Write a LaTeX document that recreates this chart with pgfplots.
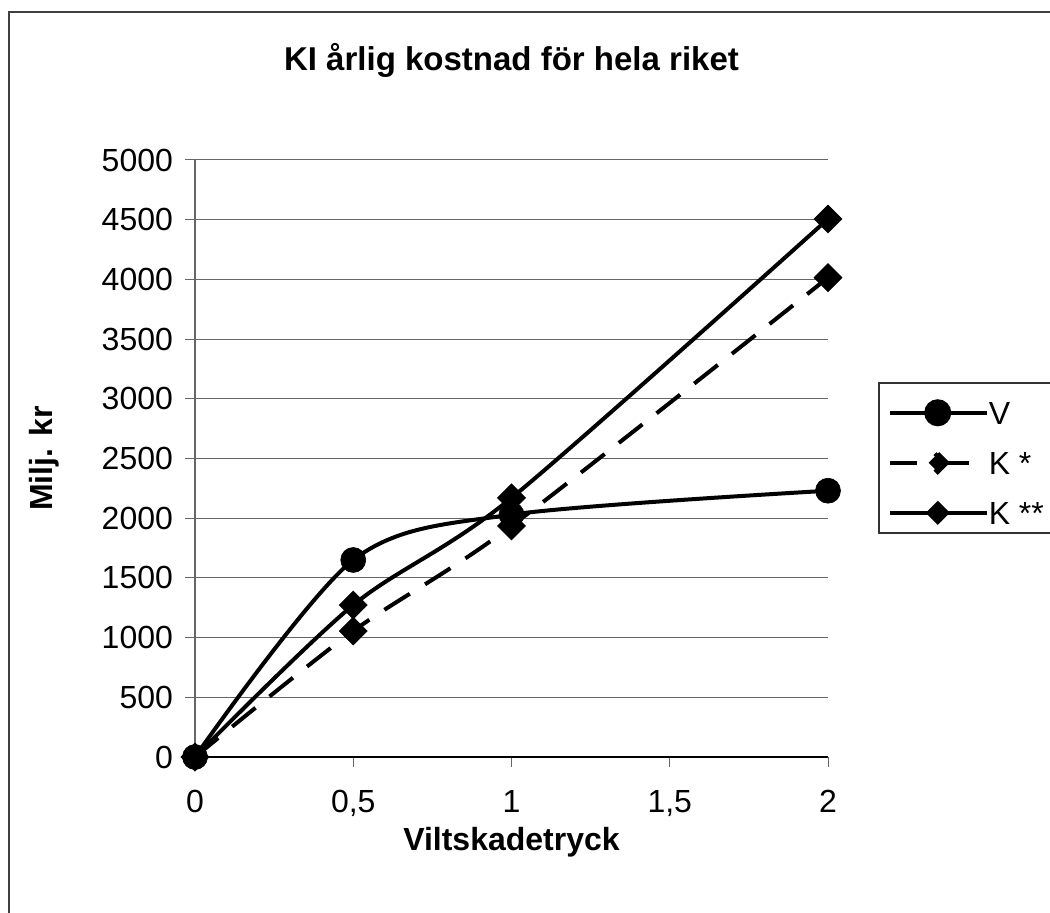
\documentclass[border=0pt]{standalone}
\usepackage{fontspec}
\setmainfont{Liberation Sans}
\usepackage{pgfplots}
\pgfplotsset{compat=1.18}

\begin{document}
\begin{tikzpicture}[x=1pt,y=1pt]
\path[use as bounding box] (0,0) rectangle (525,456);
\begin{pgfinterruptboundingbox}
\draw[line width=1pt, black!75] (4.5,-10) -- (4.5,450) -- (540,450);
\begin{axis}[
  at={(97.5pt,77.5pt)}, anchor=south west,
  scale only axis, width=316.5pt, height=298.5pt,
  xmin=0, xmax=2, ymin=0, ymax=5000,
  axis x line=bottom, axis y line=left, axis line style={-},
  x axis line style={black, line width=0.75pt},
  y axis line style={black!60, line width=0.5pt},
  xtick={0,0.5,1,1.5,2}, xticklabels={0,{0,5},1,{1,5},2},
  ytick={0,500,...,5000},
  yticklabel style={/pgf/number format/1000 sep={}, xshift=-2.5pt},
  /pgf/number format/assume math mode=true,
  tick align=outside, major tick length=5pt,
  tick style={black!60, line width=0.5pt},
  ymajorgrids, grid style={black!60, line width=0.5pt},
  tick label style={font=\fontsize{16}{19}\selectfont},
  xticklabel style={yshift=-8pt},
  clip=false,
  title={KI årlig kostnad för hela riket},
  title style={at={(axis description cs:0.5,1.1306)}, anchor=base, font=\bfseries\fontsize{16.5}{20}\selectfont},
  xlabel={Viltskadetryck},
  xlabel style={at={(axis description cs:0.5,-0.1558)}, anchor=base, font=\bfseries\fontsize{16}{19}\selectfont},
  ylabel={Milj. kr},
  ylabel style={at={(axis description cs:-0.2259,0.5)}, anchor=base, font=\bfseries\fontsize{16}{19}\selectfont},
  reverse legend,
  legend style={at={(axis description cs:1.0790,0.6281)}, anchor=north west,
    draw=black!80, line width=0.75pt, inner xsep=4.5pt, inner ysep=2pt,
    row sep=4pt, font=\fontsize{16}{19}\selectfont,
    nodes={inner sep=0pt, text height=19pt, text depth=2pt},
    cells={anchor=base west}},
]
\addplot[black, line width=2pt, smooth, mark=square*, mark size=4.95pt,
  mark options={rotate=45, solid, line width=0.3pt},
  legend image code/.code={
    \draw[solid, black, line width=2pt] (0pt,6pt)--(48.5pt,6pt);
    \fill[black] (24pt,10.6pt)--(28.6pt,6pt)--(24pt,1.4pt)--(19.4pt,6pt)--cycle;}]
  coordinates {(0,0) (0.5,1273) (1,2170) (2,4506)};
\addlegendentry{\makebox[45pt][l]{K **}}
\addplot[black, line width=2pt, smooth, dash pattern=on 15pt off 9pt, mark=square*, mark size=4.95pt,
  mark options={rotate=45, solid, line width=0.3pt},
  legend image code/.code={
    \draw[solid, black, line width=2pt] (0pt,6pt)--(13.5pt,6pt) (27.5pt,6pt)--(39.5pt,6pt);
    \fill[black] (24pt,10.6pt)--(28.6pt,6pt)--(24pt,1.4pt)--(19.4pt,6pt)--cycle;}]
  coordinates {(0,0) (0.5,1055) (1,1935) (2,4015)};
\addlegendentry{\makebox[45pt][l]{K *}}
\addplot[black, line width=2pt, smooth, mark=*, mark size=6.25pt,
  mark options={solid, line width=0.3pt},
  legend image code/.code={
    \draw[solid, black, line width=2pt] (0pt,6pt)--(48.5pt,6pt);
    \fill[black] (24pt,6pt) circle (5.75pt);}]
  coordinates {(0,0) (0.5,1650) (1,2030) (2,2230)};
\addlegendentry{\makebox[45pt][l]{V}}
\end{axis}
\end{pgfinterruptboundingbox}
\end{tikzpicture}
\end{document}
